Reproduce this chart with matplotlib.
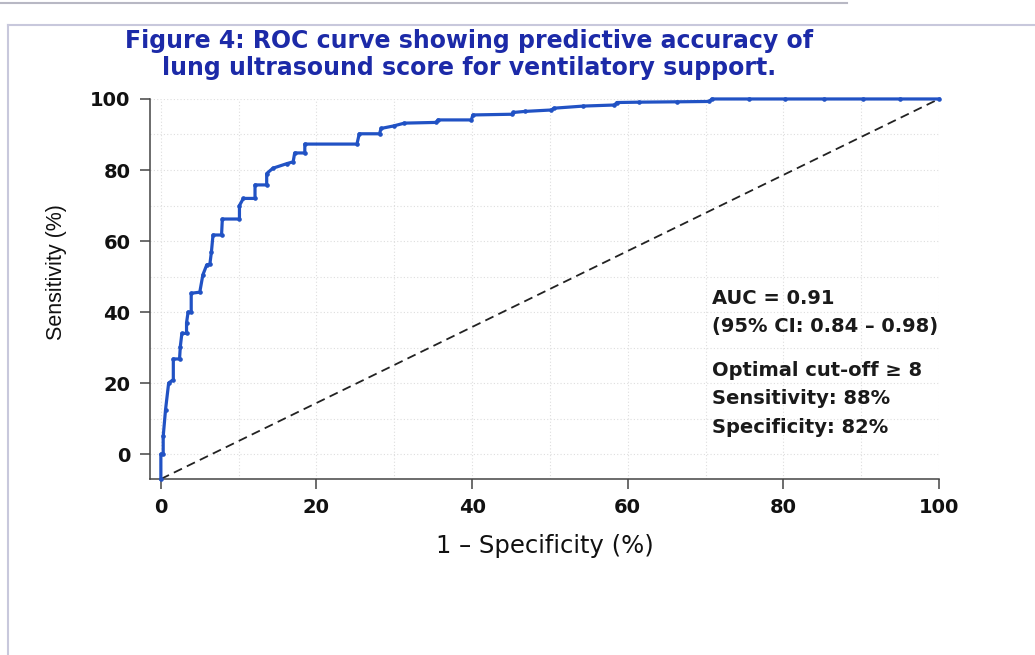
import matplotlib
matplotlib.use("Agg")
import matplotlib.pyplot as plt
from matplotlib.lines import Line2D

# ROC curve vertices (1 - specificity %, sensitivity %)
fpr = [0, 0, 0.3, 0.3, 0.6, 1.0, 1.6, 1.6, 2.4, 2.5, 2.7, 3.3, 3.3, 3.5, 3.9,
       3.9, 5.0, 5.4, 5.9, 6.3, 6.5, 6.7, 7.8, 7.9, 10.1, 10.1, 10.6, 12.1,
       12.1, 13.6, 13.6, 14.4, 16.2, 17.0, 17.2, 18.5, 18.5, 25.2, 25.5, 28.1,
       28.3, 29.9, 31.3, 35.4, 35.6, 39.9, 40.1, 45.1, 45.3, 46.8, 50.2, 50.5,
       54.3, 58.3, 58.6, 61.5, 66.3, 70.5, 70.8, 75.6, 80.2, 85.2, 90.2, 95.0,
       100]
tpr = [-7, 0, 0, 5, 12.5, 20, 21, 26.8, 26.8, 30.3, 34, 34, 37, 40, 40,
       45.3, 45.6, 50.5, 53.3, 53.5, 57, 61.7, 61.7, 66.2, 66.2, 70, 72, 72,
       75.8, 75.8, 79, 80.5, 81.8, 82.3, 84.8, 84.8, 87.3, 87.3, 90.2, 90.2,
       91.7, 92.4, 93.2, 93.4, 94.1, 94.1, 95.5, 95.7, 96.2, 96.5, 96.9, 97.4,
       98.0, 98.3, 99.0, 99.1, 99.2, 99.3, 100, 100, 100, 100, 100, 100,
       100]

ticks = [0, 20, 40, 60, 80, 100]
grid_lines = [0, 10, 20, 30, 40, 50, 60, 70, 80, 90, 100]

title = ("Figure 4: ROC curve showing predictive accuracy of\n"
         "lung ultrasound score for ventilatory support.")
auc_lines = ["AUC = 0.91", "(95% CI: 0.84 \u2013 0.98)"]
cutoff_lines = ["Optimal cut-off \u2265 8", "Sensitivity: 88%", "Specificity: 82%"]

plt.rcParams['font.family'] = ['DejaVu Sans']

fig = plt.figure(figsize=(10.35, 6.55), dpi=100)
fig.patch.set_facecolor("white")

# page frame around the figure
fig.add_artist(Line2D([0, 0.818], [0.996, 0.996], color="#b8b8c4", lw=1.5))
fig.add_artist(Line2D([0.008, 0.008], [0, 0.962], color="#c8c8dc", lw=1.5))
fig.add_artist(Line2D([0.008, 1], [0.962, 0.962], color="#c8c8dc", lw=1.5))

ax = fig.add_axes([0.1449, 0.2687, 0.7623, 0.5802])
ax.set_xlim(-1.4, 100)
ax.set_ylim(-7, 100)

for g in grid_lines:
    ax.axvline(g, color="#dedede", lw=0.8, ls=(0, (1, 2)), zorder=0)
    ax.axhline(g, color="#dedede", lw=0.8, ls=(0, (1, 2)), zorder=0)

y0 = ax.get_ylim()[0]
ax.plot([0, 100], [y0, 100], color="#222222", lw=1.3, ls=(0, (5, 3)),
        zorder=2, clip_on=False)
ax.plot(fpr, tpr, color="#2152c4", lw=2.3, marker="o", ms=2.3,
        zorder=3, clip_on=False)

ax.set_xticks(ticks)
ax.set_yticks(ticks)
ax.tick_params(direction="out", length=7, width=1.1, color="#444444",
               labelsize=14, labelcolor="#111111", pad=7)
for lab in ax.get_xticklabels() + ax.get_yticklabels():
    lab.set_fontweight("bold")

for side in ["top", "right"]:
    ax.spines[side].set_visible(False)
for side in ["left", "bottom"]:
    ax.spines[side].set_color("#444444")
    ax.spines[side].set_linewidth(1.1)

ax.set_xlabel("1 \u2013 Specificity (%)", fontsize=17.5, color="#111111",
              labelpad=12)
ax.set_ylabel("Sensitivity (%)", fontsize=15.5, color="#111111",
              family="Liberation Sans")
ax.yaxis.set_label_coords(-0.105, 0.545)

fig.text(0.453, 0.917, title, ha="center", va="center", fontsize=17,
         fontweight="bold", color="#1c2aa8", linespacing=1.15)

# annotation block
for i, s in enumerate(auc_lines):
    fig.text(0.688, 0.545 - i * 0.043, s, fontsize=14, fontweight="bold",
             color="#1a1a1a", va="center")
for i, s in enumerate(cutoff_lines):
    fig.text(0.688, 0.435 - i * 0.044, s, fontsize=14, fontweight="bold",
             color="#1a1a1a", va="center")

fig.savefig("out.png", dpi=100)
